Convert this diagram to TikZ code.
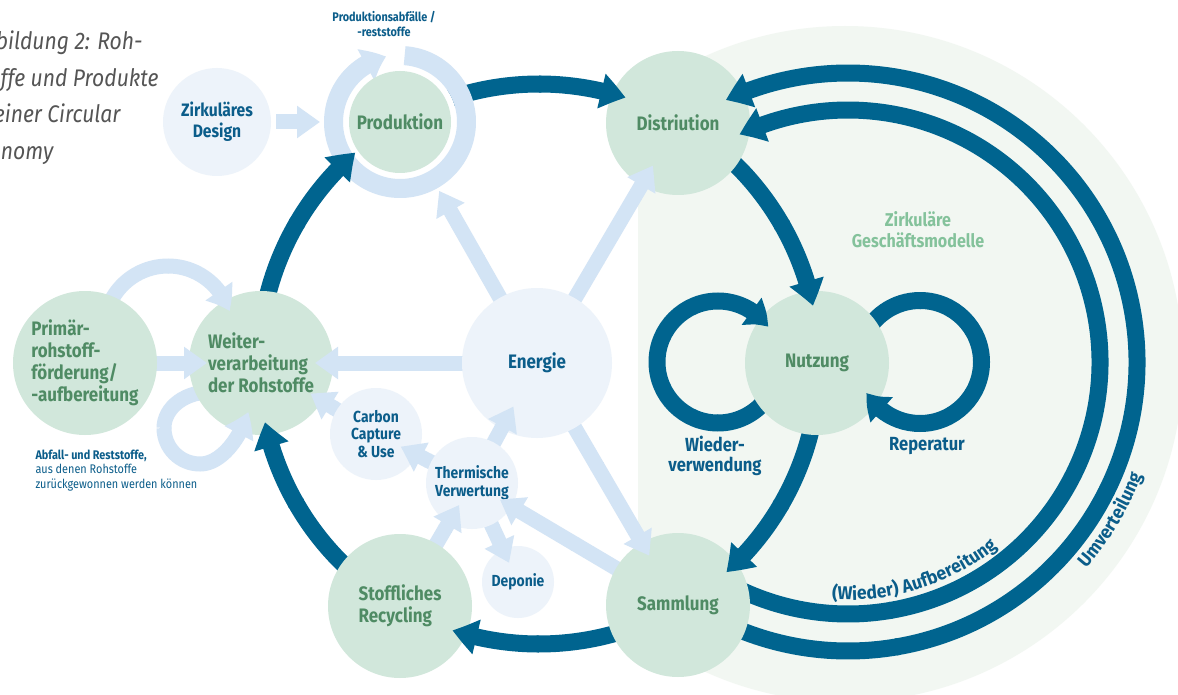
\documentclass[tikz,border=0pt]{standalone}
\usepackage{fontspec}
\usetikzlibrary{arrows.meta,bending,calc,decorations.text}

\newfontfamily\labfont{Fira Sans}[FakeStretch=0.87]
\newfontfamily\arcfamily{Fira Sans}[FakeStretch=0.95]
\newfontfamily\capfamily{Fira Sans}[FakeStretch=0.88]

\definecolor{dblue}{HTML}{00648F}
\definecolor{lblue}{HTML}{D3E4F5}
\definecolor{pale}{HTML}{EDF3FA}
\definecolor{mint}{HTML}{D1E7DB}
\definecolor{gtext}{HTML}{4F8B64}
\definecolor{zone}{HTML}{F2F7F2}
\definecolor{lgtext}{HTML}{84C29B}
\definecolor{btext}{HTML}{0B5D8A}
\definecolor{captxt}{HTML}{555555}

\newcommand\titlefnt{\labfont\bfseries\fontsize{19.5}{22}\selectfont}
\newcommand\designfnt{\labfont\bfseries\fontsize{18}{21}\selectfont}
\newcommand\smallfnt{\labfont\bfseries\fontsize{16}{17.5}\selectfont}
\newcommand\tinyfnt{\labfont\bfseries\fontsize{12.5}{15}\selectfont}
\newcommand\notefnt{\labfont\fontsize{12.5}{14.5}\selectfont}
\newcommand\loopfnt{\labfont\bfseries\fontsize{19}{20}\selectfont}
\newcommand\zonefnt{\labfont\bfseries\fontsize{18.5}{21}\selectfont}
\newcommand\arcfnt{\arcfamily\bfseries\fontsize{18.5}{18.5}\selectfont}
\newcommand\capfnt{\capfamily\itshape\fontsize{24}{36}\selectfont}

\pgfdeclarelayer{zonelayer}
\pgfdeclarelayer{tails}
\pgfsetlayers{zonelayer,tails,main}

\tikzset{
  dark/.style={draw=dblue, line width=17pt},
  darktip/.style={dark, -{Triangle[width=34pt,length=25pt,bend]}},
  looptip/.style={dark, -{Triangle[width=32pt,length=23pt,bend]}},
  lite/.style={draw=lblue, line width=15pt},
  litetip/.style={lite, -{Triangle[width=31pt,length=23pt,bend]}},
  mintnode/.style={circle, fill=mint, inner sep=0pt, minimum size=144pt,
    text=gtext, align=left, font=\titlefnt},
  palenode/.style={circle, fill=pale, inner sep=0pt, text=btext,
    align=center, font=\smallfnt},
}

\begin{document}
\begin{tikzpicture}[x=1pt,y=-1pt]
\useasboundingbox (0,0) rectangle (1178,695);

% centres of the arcs
\coordinate (C) at (539,364);   % main cycle
\coordinate (D) at (848,362);   % outer return loops
\coordinate (L) at (718,362);   % Wiederverwendung loop
\coordinate (Rp) at (920,362);  % Reperatur loop
\coordinate (Q) at (168,330);   % loop above the raw material nodes
\coordinate (P) at (400,122);   % Produktion

% white sheet and area of the circular business models
\begin{pgfonlayer}{zonelayer}
  \fill[white] (0,0) rectangle (1178,695);
  \begin{scope}
    \clip (638,0) rectangle (1178,695);
    \fill[zone] (845,364) circle[radius=338];
  \end{scope}
\end{pgfonlayer}

% ring of production waste around Produktion
\fill[white] (P) circle[radius=57];
\draw[lblue, line width=19pt, -{Triangle[width=34pt,length=22pt,bend]}]
  ($(P)+(-86:66.5)$) arc[start angle=-86, end angle=258, radius=66.5];

% nodes
\node[mintnode] (weiter) at (261,363) {Weiter-\\verarbeitung\\der Rohstoffe};
\node[mintnode] (prim) at (85,363) {Primär-\\rohstoff-\\förderung/\\-aufbereitung};
\node[mintnode, minimum size=102pt] (prod) at (P) {Produktion};
\node[mintnode] (dist) at (678,123) {Distriution};
\node[mintnode] (nutz) at (817,363) {Nutzung};
\node[mintnode] (samm) at (678,605) {Sammlung};
\node[mintnode] (recy) at (400,606) {Stoffliches\\Recycling};
\node[palenode, minimum size=150pt, font=\titlefnt] (energie) at (537,363) {Energie};
\node[palenode, minimum size=108pt, font=\designfnt] (design) at (217,122) {Zirkuläres\\Design};
\node[palenode, minimum size=92pt] (ccu) at (376,434) {Carbon\\Capture\\\& Use};
\node[palenode, minimum size=92pt] (therm) at (472,483) {Thermische\\Verwertung};
\node[palenode, minimum size=72pt] (depo) at (518,582) {Deponie};

% tails that run underneath the circles
\begin{pgfonlayer}{tails}
  % main cycle
  \draw[dark] ($(C)+(185:280)$) arc[start angle=185, end angle=210.5, radius=280];
  \draw[dark] ($(C)+(245:280)$) arc[start angle=245, end angle=270.5, radius=280];
  \draw[dark] ($(C)+(305:280)$) arc[start angle=305, end angle=330.5, radius=280];
  \draw[dark] ($(C)+(5:280)$) arc[start angle=5, end angle=30.5, radius=280];
  \draw[dark] ($(C)+(65:280)$) arc[start angle=65, end angle=90.5, radius=280];
  \draw[dark] ($(C)+(125:280)$) arc[start angle=125, end angle=150.5, radius=280];
  % return loops
  \draw[dark] ($(D)+(118:289)$) arc[start angle=118, end angle=80, radius=289];
  \draw[dark] ($(D)+(118:252)$) arc[start angle=118, end angle=80, radius=252];
  % loops at Nutzung
  \draw[dark] ($(L)+(30:61)$) arc[start angle=30, end angle=90.5, radius=61];
  \draw[dark] ($(Rp)+(200:61.5)$) arc[start angle=200, end angle=270.5, radius=61.5];
  % light flows
  \draw[lite] ($(energie)!40pt!(prod)$) -- ($(energie)!120pt!(prod)$);
  \draw[lite] ($(energie)!40pt!(dist)$) -- ($(energie)!120pt!(dist)$);
  \draw[lite] ($(energie)!40pt!(weiter)$) -- ($(energie)!120pt!(weiter)$);
  \draw[lite] ($(energie)!40pt!(samm)$) -- ($(energie)!120pt!(samm)$);
  \draw[lite] (125,363) -- (172,363);
  \draw[lite] ($(ccu)!20pt!(weiter)$) -- ($(ccu)!50pt!(weiter)$);
  \draw[lite] ($(therm)!20pt!(ccu)$) -- ($(therm)!50pt!(ccu)$);
  \draw[lite] ($(therm)!20pt!(energie)$) -- ($(therm)!50pt!(energie)$);
  \draw[lite] ($(recy)!40pt!(therm)$) -- ($(recy)!90pt!(therm)$);
  \draw[lite] ($(therm)!20pt!(depo)$) -- ($(therm)!50pt!(depo)$);
  \draw[lite] ($(samm)!40pt!(therm)$) -- ($(samm)!120pt!(therm)$);
  \draw[lite] ($(Q)+(180:64)$) arc[start angle=180, end angle=270.5, radius=64];
  \draw[lite] (216,392) .. controls (185,390) and (164,408) .. (164,428);
\end{pgfonlayer}

% main cycle heads
\draw[darktip] ($(C)+(210:280)$) arc[start angle=210, end angle=229, radius=280];
\draw[darktip] ($(C)+(270:280)$) arc[start angle=270, end angle=288, radius=280];
\draw[darktip] ($(C)+(330:280)$) arc[start angle=330, end angle=348, radius=280];
\draw[darktip] ($(C)+(30:280)$) arc[start angle=30, end angle=48, radius=280];
\draw[darktip] ($(C)+(90:280)$) arc[start angle=90, end angle=108, radius=280];
\draw[darktip] ($(C)+(150:280)$) arc[start angle=150, end angle=168, radius=280];

% Umverteilung and (Wieder) Aufbereitung
\draw[darktip] ($(D)+(80.5:289)$) arc[start angle=80.5, end angle=-115, radius=289];
\draw[darktip] ($(D)+(80.5:252)$) arc[start angle=80.5, end angle=-115.5, radius=252];

% Wiederverwendung and Reperatur
\draw[looptip] ($(L)+(90:61)$) arc[start angle=90, end angle=325, radius=61];
\draw[looptip] ($(Rp)+(270:61.5)$) arc[start angle=270, end angle=510, radius=61.5];

% light flow heads
\draw[litetip] ($(energie)!119pt!(prod)$) -- ($(energie)!198pt!(prod)$);
\draw[litetip] ($(energie)!119pt!(dist)$) -- ($(energie)!229pt!(dist)$);
\draw[litetip] ($(energie)!119pt!(weiter)$) -- ($(energie)!222pt!(weiter)$);
\draw[litetip] ($(energie)!119pt!(samm)$) -- ($(energie)!223pt!(samm)$);
\draw[litetip] (276,122) -- (320,122);
\draw[litetip] (171,363) -- (207,363);
\draw[litetip] ($(ccu)!49pt!(weiter)$) -- ($(ccu)!77pt!(weiter)$);
\draw[litetip] ($(therm)!49pt!(ccu)$) -- ($(therm)!80pt!(ccu)$);
\draw[litetip] ($(therm)!49pt!(energie)$) -- ($(therm)!87pt!(energie)$);
\draw[litetip] ($(recy)!89pt!(therm)$) -- ($(recy)!117pt!(therm)$);
\draw[litetip] ($(therm)!49pt!(depo)$) -- ($(therm)!88pt!(depo)$);
\draw[litetip] ($(samm)!119pt!(therm)$) -- ($(samm)!207pt!(therm)$);
\draw[litetip] ($(Q)+(270:64)$) arc[start angle=270, end angle=343, radius=64];
\draw[litetip] (164,428) .. controls (164,448) and (180,464) .. (200,464)
  .. controls (222,464) and (241.5,436) .. (248,412);

% labels along the return loops
\path[decorate, decoration={text along path, text align=center,
  text={|\arcfnt\color{btext}|(Wieder) Aufbereitung}}]
  ($(D)+(114:238)$) arc[start angle=114, end angle=31, radius=238];
\path[decorate, decoration={text along path, text align=center,
  text={|\arcfnt\color{btext}|Umverteilung}}]
  ($(D)+(62:315)$) arc[start angle=62, end angle=0, radius=315];

% free labels
\node[font=\tinyfnt, text=btext, align=center] (abfall) at (384,24) {Produktionsabfälle /\\-reststoffe};
\node[anchor=north west, align=left, text=btext, font=\notefnt] (note) at (32,446)
  {{\bfseries Abfall- und Reststoffe,}\\aus denen Rohstoffe\\zurückgewonnen werden können};
\node[text=lgtext, font=\zonefnt, align=center] (zgm) at (918,230) {Zirkuläre\\Geschäftsmodelle};
\node[text=btext, font=\loopfnt, align=center] (wv) at (715,456) {Wieder-\\verwendung};
\node[text=btext, font=\loopfnt] (rep) at (927,446) {Reperatur};

% caption
\node[anchor=base east, font=\capfnt, text=captxt] (cap1) at (146,50) {Abbildung 2: Roh-};
\node[anchor=base east, font=\capfnt, text=captxt] (cap2) at (162,87) {stoffe und Produkte};
\node[anchor=base east, font=\capfnt, text=captxt] (cap3) at (124,123) {in einer Circular};
\node[anchor=base east, font=\capfnt, text=captxt] (cap4) at (57,160) {Economy};
\end{tikzpicture}
\end{document}
